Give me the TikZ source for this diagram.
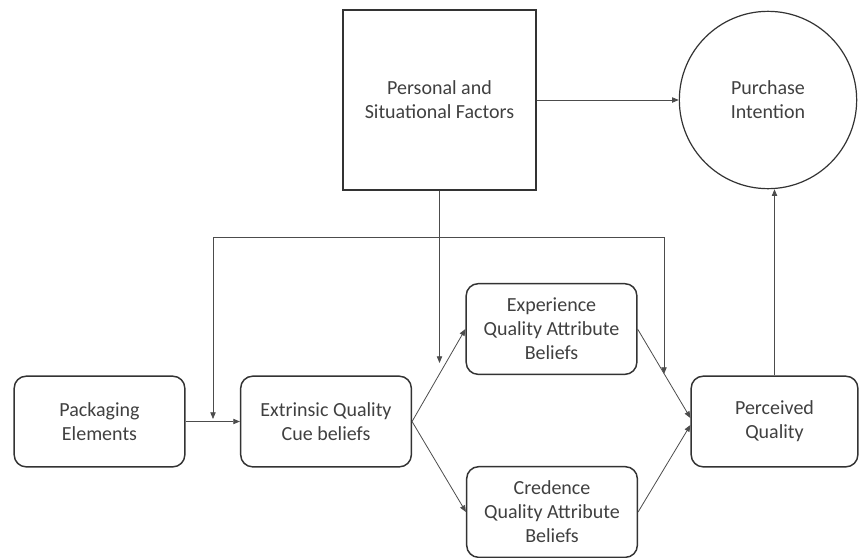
\documentclass[tikz,border=0pt]{standalone}
\usepackage{fontspec}
\setmainfont{Carlito}
\usepackage{xcolor}
\usetikzlibrary{arrows.meta,positioning}
\definecolor{lineDark}{gray}{0.20}
\definecolor{lineMid} {gray}{0.30}
\definecolor{textDark}{gray}{0.25}

\begin{document}
\begin{tikzpicture}[x=0.75pt, y=-0.75pt,
      every node/.style={font=\fontsize{15}{18}\selectfont\color{textDark},
                         align=center, inner sep=2pt},
      factor/.style={draw=lineDark, line width=1.1pt,
                     minimum width=144.75pt, minimum height=135pt},
      target/.style={draw=lineDark, line width=0.9pt, circle,
                     minimum size=133pt},
      stage/.style={draw=lineDark, line width=1.1pt, rounded corners=9pt,
                    minimum width=128pt, minimum height=68pt},
      arrow/.style={-{Triangle[length=5pt, width=4pt]}, draw=lineMid,
                    line width=0.6pt}]

    \useasboundingbox (0,0) rectangle (859,557);

    \node[factor] (pers)  at (439.5,100) {Personal and\\Situational Factors};
    \node[target] (purch) at (768,100)   {Purchase\\Intention};

    \node[stage] (pack) at (99.5,421.5) {Packaging\\Elements};
    \node[stage] (extr) at (326,421.5)  {Extrinsic Quality\\Cue beliefs};
    \node[stage] (expe) at (551.5,329)  {Experience\\Quality Attribute\\Beliefs};
    \node[stage] (cred) at (552,512)    {Credence\\Quality Attribute\\Beliefs};
    \node[stage, minimum width=125pt] (perc) at (774.5,421.5) {Perceived\\Quality};

    \coordinate (junc) at (439.5,237);
    \coordinate (tipA) at (439.5,363);
    \coordinate (tipB) at (213,419);
    \coordinate (tipC) at (664,374);

    \draw[arrow] (pers) -- (purch);
    \draw[arrow] (pers.south) -- (tipA);
    \draw[arrow] (junc) -| (tipB);
    \draw[arrow] (junc) -| (tipC);

    \draw[arrow] (pack) -- (extr);
    \draw[arrow] (extr.east) -- (expe.west);
    \draw[arrow] (extr.east) -- (cred.west);
    \draw[arrow] (expe.east) -- ([yshift=2.6pt]perc.west);
    \draw[arrow] (cred.east) -- ([yshift=-2.6pt]perc.west);
    \draw[arrow] (perc.north) -- (perc.north |- purch.south);
  \end{tikzpicture}
\end{document}
